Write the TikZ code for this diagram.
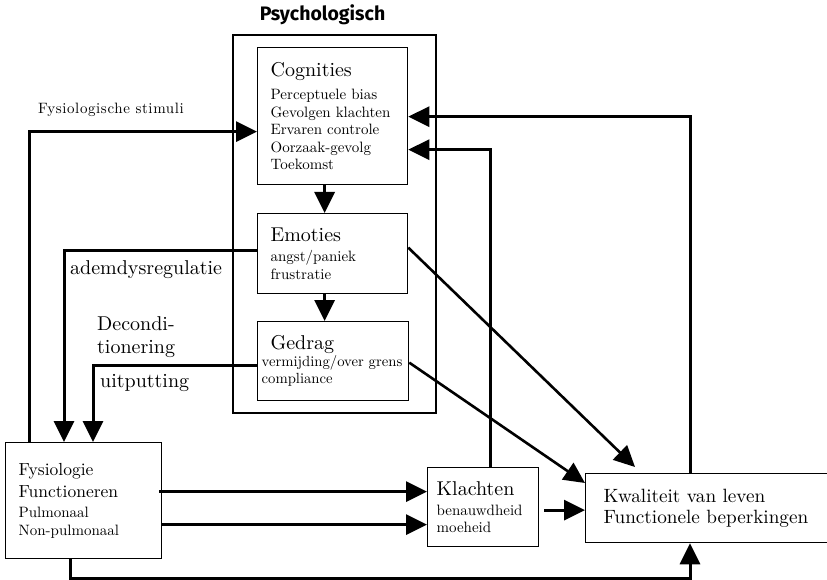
\documentclass[tikz,border=0pt]{standalone}
\usepackage{fontspec}
\setmainfont{lmroman10-regular}[Extension=.otf, BoldFont=lmroman10-bold]
\newfontfamily\kopfont{Fira Sans}
\usetikzlibrary{calc,arrows.meta}

\newcommand{\kop}[1]{{\fontsize{20}{22}\selectfont #1}}
\tikzset{
  blok/.style={draw, line width=1.3pt, anchor=north west, align=left,
    inner ysep=0pt, font=\fontsize{15}{17.5}\selectfont},
  pijl/.style={line width=3pt, -{Triangle[length=21pt,width=20pt]}},
  label/.style={anchor=west, inner sep=0pt, align=left, font=\fontsize{20}{23}\selectfont}
}

\begin{document}
\begin{tikzpicture}[x=1pt,y=-1pt]
  \useasboundingbox (0,0) rectangle (827,580);
  % psychologisch blok
  \node[draw, line width=1.6pt, anchor=north west, minimum width=203pt, minimum height=378pt, inner sep=0pt] (psy) at (232,34) {};
  \node[font=\kopfont\bfseries\fontsize{19.5}{21}\selectfont] (psytitel) at (322.5,15) {Psychologisch};
  \node[blok, minimum width=150pt, minimum height=137pt, inner xsep=13pt, text width=124pt] (cog) at (257,47)
    {\kop{Cognities}\\[6pt] Perceptuele bias\\ Gevolgen klachten\\ Ervaren controle\\ Oorzaak-gevolg\\ Toekomst};
  \node[blok, minimum width=150pt, minimum height=80pt, inner xsep=13pt, text width=124pt] (emo) at (257,213)
    {\kop{Emoties}\\[2.5pt] angst/paniek\\ frustratie};
  \node[blok, minimum width=151pt, minimum height=79pt, inner xsep=4pt, text width=143pt, font=\fontsize{14.7}{17}\selectfont] (ged) at (257,321)
    {\hspace{9pt}\kop{Gedrag}\\ vermijding/over grens\\ compliance};
  % onderste rij
  \node[blok, minimum width=156pt, minimum height=116pt, inner xsep=13pt, text width=130pt] (fys) at (5,442)
    {{\fontsize{17.5}{20}\selectfont Fysiologie}\\[4.5pt] {\fontsize{17.5}{20}\selectfont Functioneren}\\[2.5pt] Pulmonaal\\ Non-pulmonaal};
  \node[blok, minimum width=111pt, minimum height=79pt, inner xsep=9pt, text width=93pt] (kla) at (427,467)
    {\kop{Klachten}\\[2.5pt] benauwdheid\\ moeheid};
  \node[blok, minimum width=250pt, minimum height=69pt, inner xsep=18pt, text width=214pt, font=\fontsize{19.2}{21}\selectfont] (kwa) at (585,473)
    {Kwaliteit van leven\\ Functionele beperkingen};
  % labels
  \node[anchor=west, inner sep=0pt, font=\fontsize{15}{17}\selectfont\addfontfeature{LetterSpace=4}] (stim) at (38,110) {Fysiologische stimuli};
  \node[label] (adem) at (70,270) {ademdysregulatie};
  \node[label] (decond) at (97,337) {Decondi-\\tionering};
  \node[label] (uitput) at (100,383) {uitputting};
  % pijlen
  \draw[pijl] ($(fys.north west)+(24,0)$) |- ($(cog.west)+(0,15.5)$);
  \draw[pijl] ($(emo.west)+(0,-3)$) -| ($(fys.north west)+(59,0)$);
  \draw[pijl] ($(ged.west)+(0,4.5)$) -| ($(fys.north west)+(88,0)$);
  \draw[pijl] ($(cog.south)+(-8,0)$) -- ($(emo.north)+(-8,0)$);
  \draw[pijl] ($(emo.south)+(-8,0)$) -- ($(ged.north)+(-8.5,0)$);
  \draw[pijl] ($(fys.east)+(-3,-9)$) coordinate (f1) -- (f1 -| kla.west);
  \draw[pijl] ($(fys.east)+(0,24)$) coordinate (f2) -- (f2 -| kla.west);
  \draw[pijl] ($(kla.east)+(5,3)$) coordinate (k1) -- (k1 -| kwa.west);
  \draw[pijl] ($(fys.south west)+(65,0)$) -- ++(0,19) -| ($(kwa.south west)+(105,0)$);
  \draw[pijl] ($(kwa.north west)+(105,0)$) |- ($(cog.east)+(0,0.5)$);
  \draw[pijl] ($(kla.north west)+(63,0)$) |- ($(cog.east)+(0,33.5)$);
  \draw[pijl, line width=2.6pt] ($(emo.east)+(0,-6)$) -- ($(kwa.north west)+(50,-6)$);
  \draw[pijl, line width=2.6pt] ($(ged.east)+(0,1.5)$) -- ($(kwa.north west)+(0,10)$);
\end{tikzpicture}
\end{document}
